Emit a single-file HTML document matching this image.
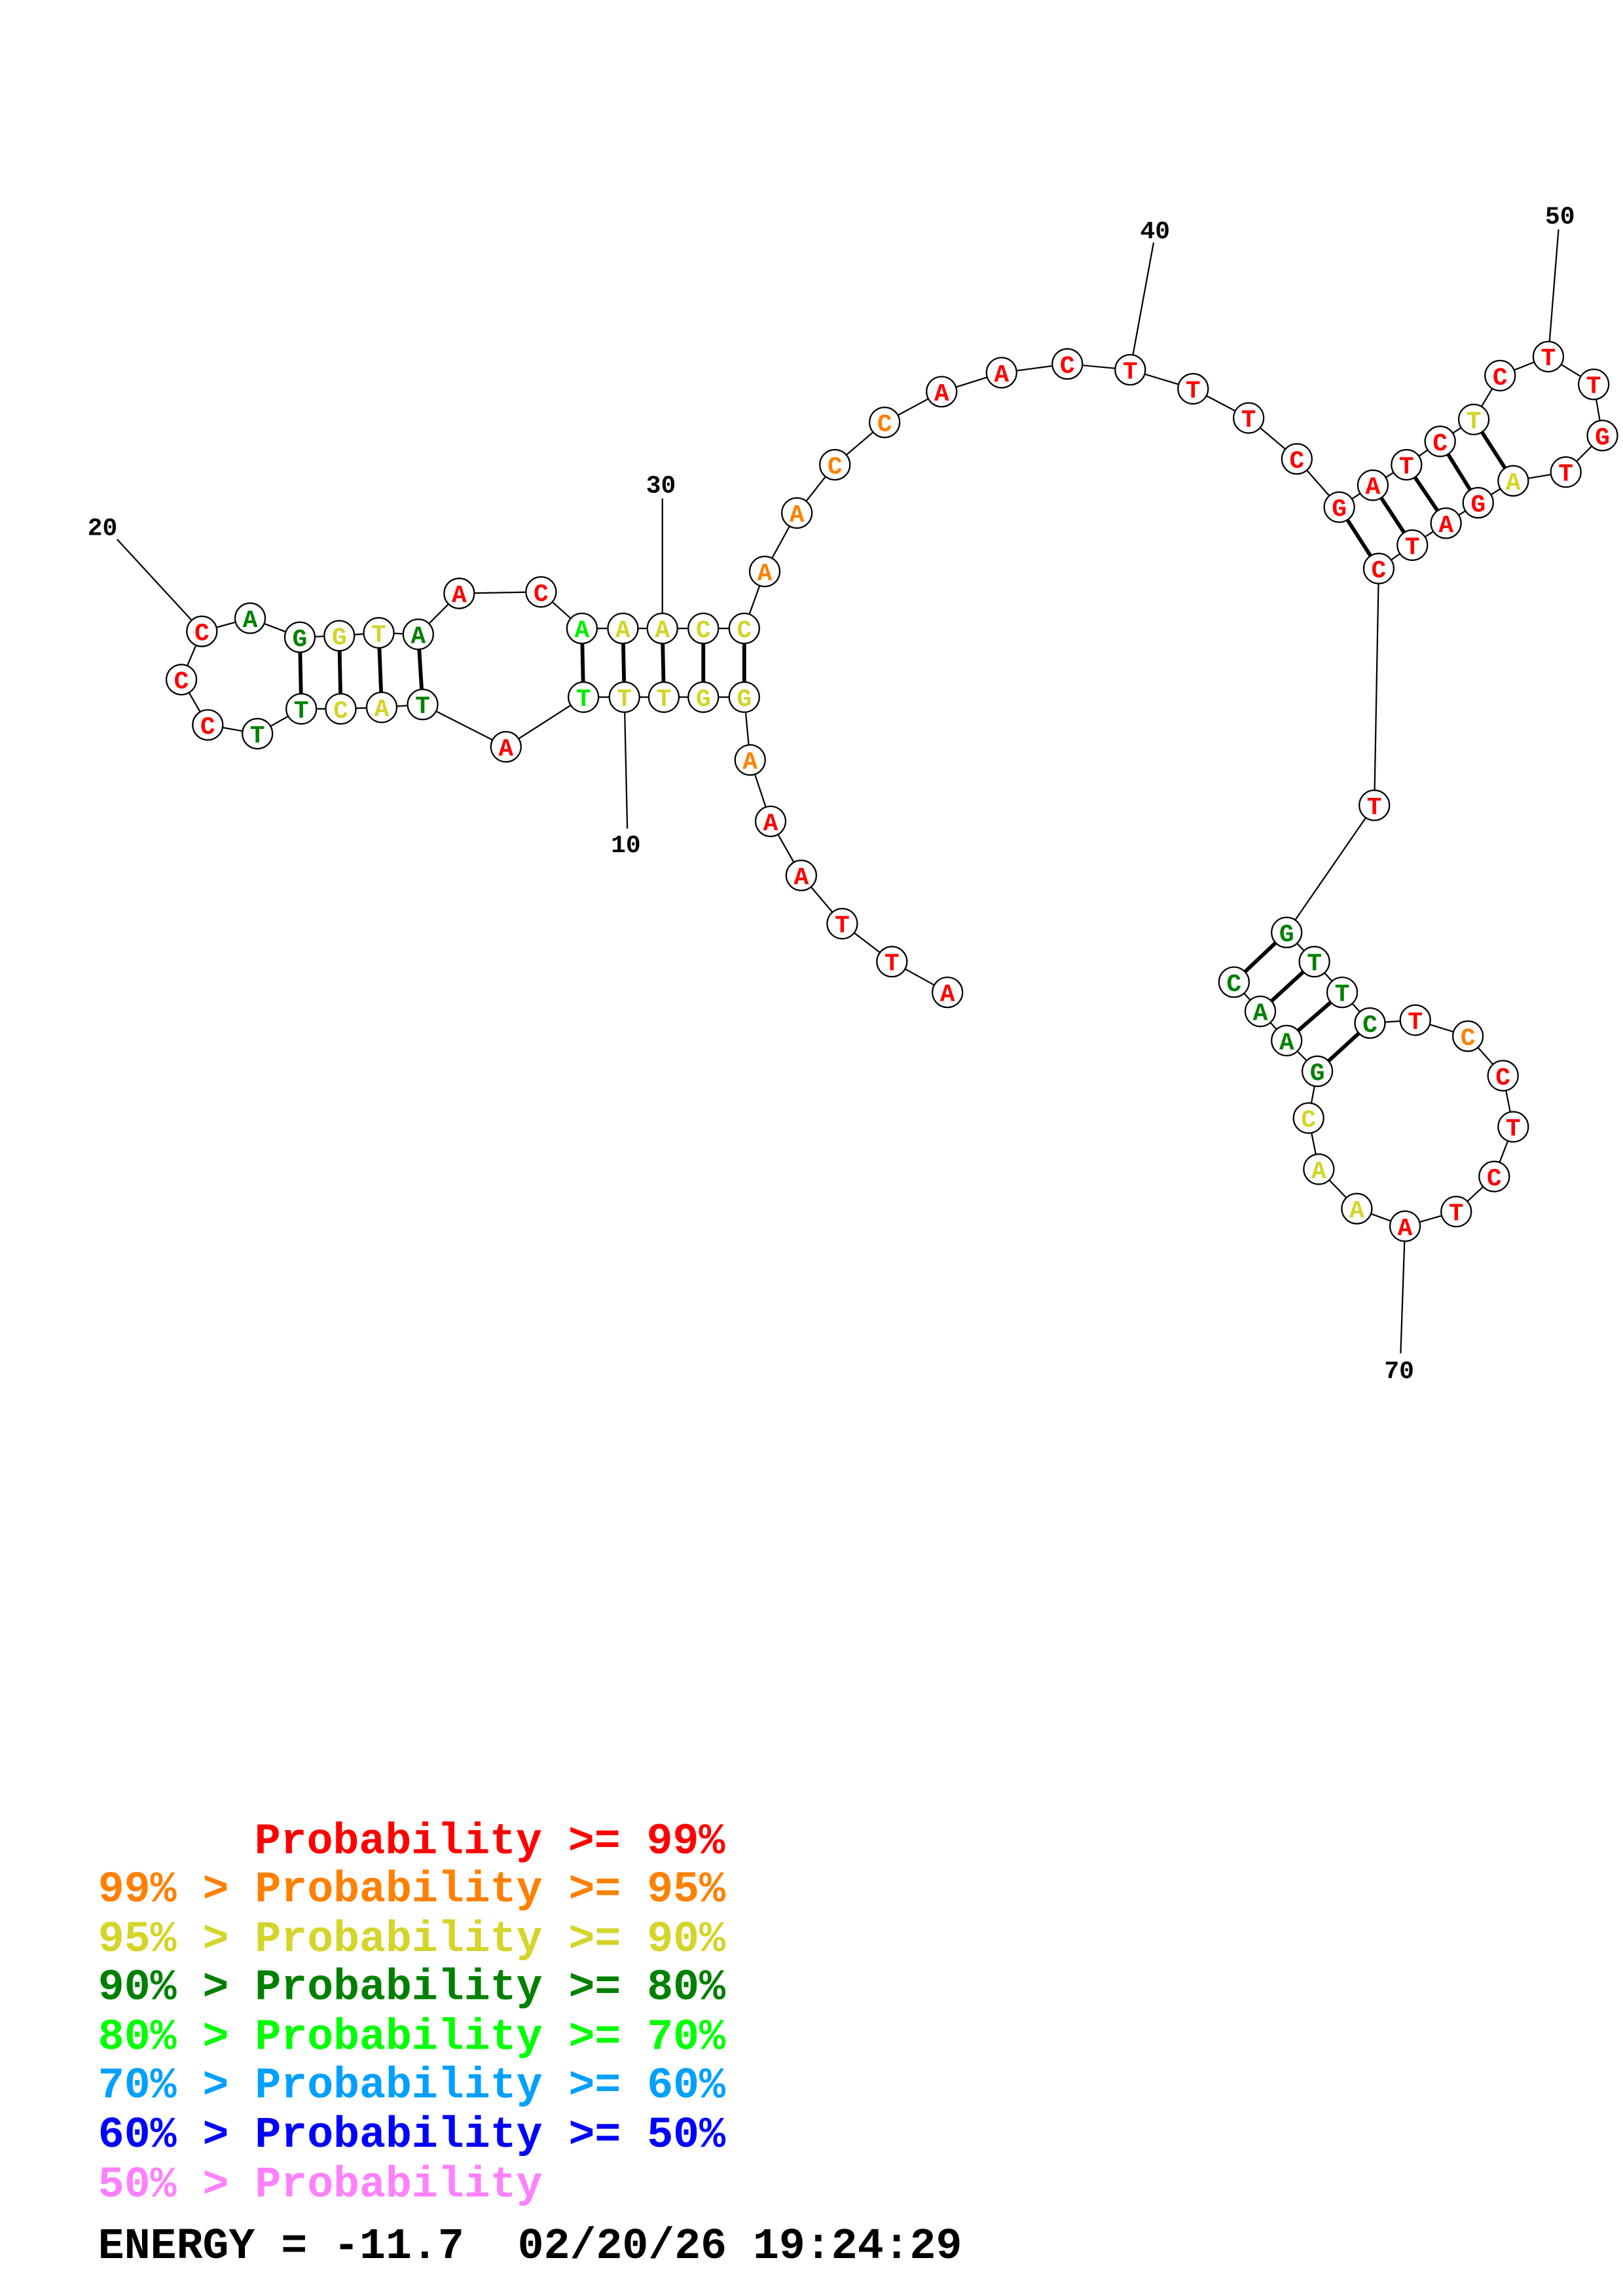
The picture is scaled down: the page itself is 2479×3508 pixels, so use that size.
<!DOCTYPE html>
<html><head><meta charset="utf-8"><style>html,body{margin:0;padding:0;background:#fff}svg{display:block}.pre{white-space:pre}</style></head><body>
<svg xmlns="http://www.w3.org/2000/svg" width="2479" height="3508" viewBox="0 0 1110 1571">
<rect width="1110" height="1571" fill="#fff"/>
<g stroke="#000" stroke-width="1" fill="none">
<polyline points="648,679 610,658 576,632 548,599 527,562 513,520 509,477 481,477 454,477 427,477 399,477 346,511 289,482 261,484 233,485 206,485 176,502 142,496 124,465 138,432 171,423 205,436 232,435 259,433 286,434 314,406 370,405 398,430 426,430 453,430 481,430 509,430 523,391 545,351 571,318 605,289 644,268 685,255 730,249 773,253 816,266 854,286 887,314 916,347 939,332 962,318 985,302 1008,287 1026,257 1059,244 1090,263 1096,298 1071,323 1035,329 1011,344 989,358 966,373 943,389 940,551 880,638 899,658 918,679 937,700 968,698 1004,709 1028,736 1035,771 1022,805 996,829 961,839 928,827 902,800 895,765 901,733 880,712 862,692 844,672"/>
<line x1="429" y1="567" x2="427" y2="477"/>
<line x1="80" y1="369" x2="138" y2="432"/>
<line x1="453" y1="341" x2="453" y2="430"/>
<line x1="789" y1="166" x2="773" y2="253"/>
<line x1="1066" y1="157" x2="1059" y2="244"/>
<line x1="958" y1="926" x2="961" y2="839"/>
</g>
<g stroke="#000" stroke-width="2.6">
<line x1="509" y1="477" x2="509" y2="430"/><line x1="481" y1="477" x2="481" y2="430"/><line x1="454" y1="477" x2="453" y2="430"/><line x1="427" y1="477" x2="426" y2="430"/><line x1="399" y1="477" x2="398" y2="430"/>
<line x1="289" y1="482" x2="286" y2="434"/><line x1="261" y1="484" x2="259" y2="433"/><line x1="233" y1="485" x2="232" y2="435"/><line x1="206" y1="485" x2="205" y2="436"/>
<line x1="916" y1="347" x2="943" y2="389"/><line x1="939" y1="332" x2="966" y2="373"/><line x1="962" y1="318" x2="989" y2="358"/><line x1="985" y1="302" x2="1011" y2="344"/><line x1="1008" y1="287" x2="1035" y2="329"/>
<line x1="880" y1="638" x2="844" y2="672"/><line x1="899" y1="658" x2="862" y2="692"/><line x1="918" y1="679" x2="880" y2="712"/><line x1="937" y1="700" x2="901" y2="733"/>
</g>
<g stroke="#000" stroke-width="1" fill="#fff">
<circle cx="648" cy="679" r="10.3"/><circle cx="610" cy="658" r="10.3"/><circle cx="576" cy="632" r="10.3"/><circle cx="548" cy="599" r="10.3"/><circle cx="527" cy="562" r="10.3"/><circle cx="513" cy="520" r="10.3"/><circle cx="509" cy="477" r="10.3"/><circle cx="481" cy="477" r="10.3"/><circle cx="454" cy="477" r="10.3"/><circle cx="427" cy="477" r="10.3"/><circle cx="399" cy="477" r="10.3"/><circle cx="346" cy="511" r="10.3"/><circle cx="289" cy="482" r="10.3"/><circle cx="261" cy="484" r="10.3"/><circle cx="233" cy="485" r="10.3"/><circle cx="206" cy="485" r="10.3"/><circle cx="176" cy="502" r="10.3"/><circle cx="142" cy="496" r="10.3"/><circle cx="124" cy="465" r="10.3"/><circle cx="138" cy="432" r="10.3"/><circle cx="171" cy="423" r="10.3"/><circle cx="205" cy="436" r="10.3"/><circle cx="232" cy="435" r="10.3"/><circle cx="259" cy="433" r="10.3"/><circle cx="286" cy="434" r="10.3"/><circle cx="314" cy="406" r="10.3"/><circle cx="370" cy="405" r="10.3"/><circle cx="398" cy="430" r="10.3"/><circle cx="426" cy="430" r="10.3"/><circle cx="453" cy="430" r="10.3"/><circle cx="481" cy="430" r="10.3"/><circle cx="509" cy="430" r="10.3"/><circle cx="523" cy="391" r="10.3"/><circle cx="545" cy="351" r="10.3"/><circle cx="571" cy="318" r="10.3"/><circle cx="605" cy="289" r="10.3"/><circle cx="644" cy="268" r="10.3"/><circle cx="685" cy="255" r="10.3"/><circle cx="730" cy="249" r="10.3"/><circle cx="773" cy="253" r="10.3"/><circle cx="816" cy="266" r="10.3"/><circle cx="854" cy="286" r="10.3"/><circle cx="887" cy="314" r="10.3"/><circle cx="916" cy="347" r="10.3"/><circle cx="939" cy="332" r="10.3"/><circle cx="962" cy="318" r="10.3"/><circle cx="985" cy="302" r="10.3"/><circle cx="1008" cy="287" r="10.3"/><circle cx="1026" cy="257" r="10.3"/><circle cx="1059" cy="244" r="10.3"/><circle cx="1090" cy="263" r="10.3"/><circle cx="1096" cy="298" r="10.3"/><circle cx="1071" cy="323" r="10.3"/><circle cx="1035" cy="329" r="10.3"/><circle cx="1011" cy="344" r="10.3"/><circle cx="989" cy="358" r="10.3"/><circle cx="966" cy="373" r="10.3"/><circle cx="943" cy="389" r="10.3"/><circle cx="940" cy="551" r="10.3"/><circle cx="880" cy="638" r="10.3"/><circle cx="899" cy="658" r="10.3"/><circle cx="918" cy="679" r="10.3"/><circle cx="937" cy="700" r="10.3"/><circle cx="968" cy="698" r="10.3"/><circle cx="1004" cy="709" r="10.3"/><circle cx="1028" cy="736" r="10.3"/><circle cx="1035" cy="771" r="10.3"/><circle cx="1022" cy="805" r="10.3"/><circle cx="996" cy="829" r="10.3"/><circle cx="961" cy="839" r="10.3"/><circle cx="928" cy="827" r="10.3"/><circle cx="902" cy="800" r="10.3"/><circle cx="895" cy="765" r="10.3"/><circle cx="901" cy="733" r="10.3"/><circle cx="880" cy="712" r="10.3"/><circle cx="862" cy="692" r="10.3"/><circle cx="844" cy="672" r="10.3"/>
</g>
<g font-family="'Liberation Mono', monospace" font-weight="bold" font-size="17" text-anchor="middle">
<text x="648" y="685" fill="#f00">A</text><text x="610" y="664" fill="#f00">T</text><text x="576" y="638" fill="#f00">T</text><text x="548" y="605" fill="#f00">A</text><text x="527" y="568" fill="#f00">A</text><text x="513" y="526" fill="#ff8000">A</text><text x="509" y="483" fill="#d4d42a">G</text><text x="481" y="483" fill="#d4d42a">G</text><text x="454" y="483" fill="#d4d42a">T</text><text x="427" y="483" fill="#d4d42a">T</text><text x="399" y="483" fill="#00ee00">T</text><text x="346" y="517" fill="#f00">A</text><text x="289" y="488" fill="#008000">T</text><text x="261" y="490" fill="#d4d42a">A</text><text x="233" y="491" fill="#d4d42a">C</text><text x="206" y="491" fill="#008000">T</text><text x="176" y="508" fill="#008000">T</text><text x="142" y="502" fill="#f00">C</text><text x="124" y="471" fill="#f00">C</text><text x="138" y="438" fill="#f00">C</text><text x="171" y="429" fill="#008000">A</text><text x="205" y="442" fill="#008000">G</text><text x="232" y="441" fill="#d4d42a">G</text><text x="259" y="439" fill="#d4d42a">T</text><text x="286" y="440" fill="#008000">A</text><text x="314" y="412" fill="#f00">A</text><text x="370" y="411" fill="#f00">C</text><text x="398" y="436" fill="#00ee00">A</text><text x="426" y="436" fill="#d4d42a">A</text><text x="453" y="436" fill="#d4d42a">A</text><text x="481" y="436" fill="#d4d42a">C</text><text x="509" y="436" fill="#d4d42a">C</text><text x="523" y="397" fill="#ff8000">A</text><text x="545" y="357" fill="#ff8000">A</text><text x="571" y="324" fill="#ff8000">C</text><text x="605" y="295" fill="#ff8000">C</text><text x="644" y="274" fill="#f00">A</text><text x="685" y="261" fill="#f00">A</text><text x="730" y="255" fill="#f00">C</text><text x="773" y="259" fill="#f00">T</text><text x="816" y="272" fill="#f00">T</text><text x="854" y="292" fill="#f00">T</text><text x="887" y="320" fill="#f00">C</text><text x="916" y="353" fill="#f00">G</text><text x="939" y="338" fill="#f00">A</text><text x="962" y="324" fill="#f00">T</text><text x="985" y="308" fill="#f00">C</text><text x="1008" y="293" fill="#d4d42a">T</text><text x="1026" y="263" fill="#f00">C</text><text x="1059" y="250" fill="#f00">T</text><text x="1090" y="269" fill="#f00">T</text><text x="1096" y="304" fill="#f00">G</text><text x="1071" y="329" fill="#f00">T</text><text x="1035" y="335" fill="#d4d42a">A</text><text x="1011" y="350" fill="#f00">G</text><text x="989" y="364" fill="#f00">A</text><text x="966" y="379" fill="#f00">T</text><text x="943" y="395" fill="#f00">C</text><text x="940" y="557" fill="#f00">T</text><text x="880" y="644" fill="#008000">G</text><text x="899" y="664" fill="#008000">T</text><text x="918" y="685" fill="#008000">T</text><text x="937" y="706" fill="#008000">C</text><text x="968" y="704" fill="#f00">T</text><text x="1004" y="715" fill="#ff8000">C</text><text x="1028" y="742" fill="#f00">C</text><text x="1035" y="777" fill="#f00">T</text><text x="1022" y="811" fill="#f00">C</text><text x="996" y="835" fill="#f00">T</text><text x="961" y="845" fill="#f00">A</text><text x="928" y="833" fill="#d4d42a">A</text><text x="902" y="806" fill="#d4d42a">A</text><text x="895" y="771" fill="#d4d42a">C</text><text x="901" y="739" fill="#008000">G</text><text x="880" y="718" fill="#008000">A</text><text x="862" y="698" fill="#008000">A</text><text x="844" y="678" fill="#008000">C</text>
</g>
<g font-family="'Liberation Mono', monospace" font-weight="bold" font-size="17" text-anchor="middle" fill="#000">
<text x="428" y="583">10</text><text x="70" y="366">20</text><text x="452" y="337">30</text><text x="790" y="163">40</text><text x="1067" y="153">50</text><text x="957" y="943">70</text>
</g>
<g font-family="'Liberation Mono', monospace" font-weight="bold" font-size="29.8" class="pre">
<text x="174" y="1268" fill="#f00">Probability &gt;= 99%</text>
<text x="67" y="1301" fill="#ff8000">99% &gt; Probability &gt;= 95%</text>
<text x="67" y="1335" fill="#d4d42a">95% &gt; Probability &gt;= 90%</text>
<text x="67" y="1368" fill="#008000">90% &gt; Probability &gt;= 80%</text>
<text x="67" y="1402" fill="#00ff00">80% &gt; Probability &gt;= 70%</text>
<text x="67" y="1435" fill="#00a0ff">70% &gt; Probability &gt;= 60%</text>
<text x="67" y="1469" fill="#0000ff">60% &gt; Probability &gt;= 50%</text>
<text x="67" y="1503" fill="#ff80ff">50% &gt; Probability</text>
<text x="67" y="1545" fill="#000">ENERGY = -11.7</text>
<text x="354" y="1545" fill="#000">02/20/26 19:24:29</text>
</g>
</svg>
</body></html>
